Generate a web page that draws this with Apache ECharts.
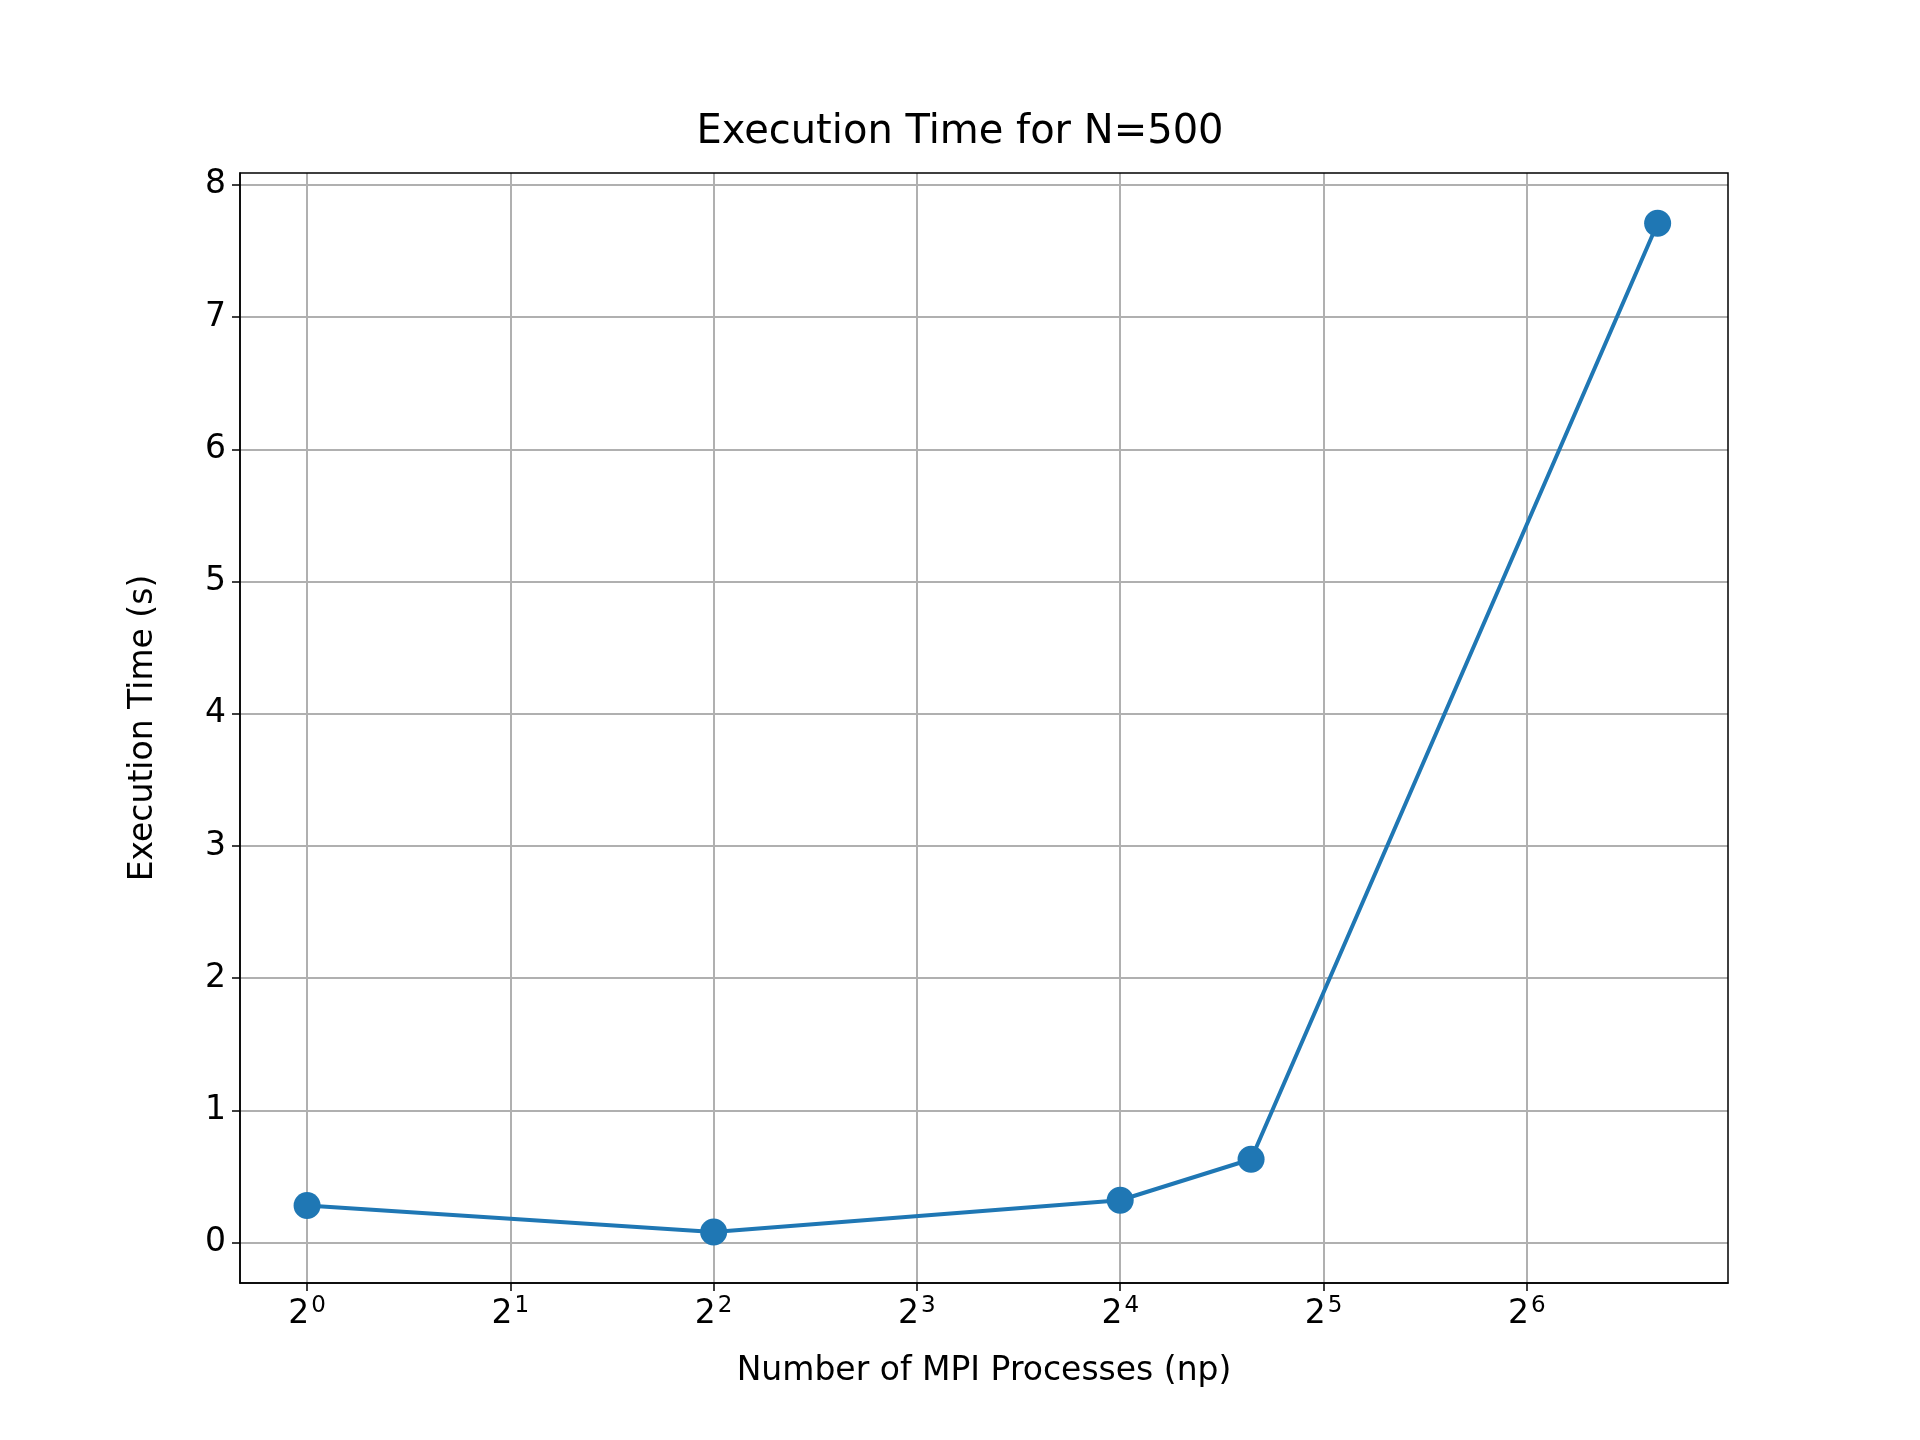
<!DOCTYPE html>
<html>
<head>
<meta charset="utf-8">
<script src="https://cdn.jsdelivr.net/npm/echarts@6/dist/echarts.min.js"></script>
<style>html,body{margin:0;padding:0;background:#fff}#chart{width:1920px;height:1440px}</style>
</head>
<body>
<div id="chart"></div>
<script>
const processes = [1, 4, 16, 25, 100];
const times = [0.28, 0.08, 0.32, 0.63, 7.71];
const xTickExps = [0, 1, 2, 3, 4, 5, 6];
const yTicks = [0, 1, 2, 3, 4, 5, 6, 7, 8];

const chart = echarts.init(document.getElementById('chart'));
const font = 'DejaVu Sans';

chart.setOption({
  animation: false,
  title: {
    text: 'Execution Time for N=500',
    left: 'center', top: 108,
    textStyle: { fontFamily: font, fontSize: 40, fontWeight: 'normal', color: '#000' }
  },
  grid: { left: 240, right: 192, top: 173, bottom: 157 },
  xAxis: {
    type: 'value',
    min: -0.33, max: 6.99,
    name: 'Number of MPI Processes (np)',
    nameLocation: 'middle', nameGap: 72,
    nameTextStyle: { fontFamily: font, fontSize: 33, color: '#000' },
    axisLine: { onZero: false, lineStyle: { color: '#000', width: 1.5 } },
    axisTick: { customValues: xTickExps, length: 8, lineStyle: { color: '#000', width: 1.5 } },
    axisLabel: {
      customValues: xTickExps, margin: 12,
      fontFamily: font, fontSize: 33, color: '#000',
      formatter: v => '2{sup|' + Math.round(v) + '}',
      rich: { sup: { fontFamily: font, fontSize: 23, color: '#000', verticalAlign: 'top', padding: [0, 0, 16, 2] } }
    },
    splitLine: { show: true, lineStyle: { color: '#b0b0b0', width: 2 } }
  },
  yAxis: {
    type: 'value',
    min: -0.306, max: 8.09,
    name: 'Execution Time (s)',
    nameLocation: 'middle', nameGap: 80,
    nameTextStyle: { fontFamily: font, fontSize: 33, color: '#000' },
    axisLine: { show: true, onZero: false, lineStyle: { color: '#000', width: 1.5 } },
    axisTick: { show: true, customValues: yTicks, length: 8, lineStyle: { color: '#000', width: 1.5 } },
    axisLabel: { customValues: yTicks, margin: 14, fontFamily: font, fontSize: 33, color: '#000' },
    splitLine: { show: true, lineStyle: { color: '#b0b0b0', width: 2 } }
  },
  series: [{
    type: 'line',
    data: processes.map((p, i) => [Math.log2(p), times[i]]),
    symbol: 'circle', symbolSize: 27,
    lineStyle: { color: '#1f77b4', width: 4 },
    itemStyle: { color: '#1f77b4' }
  }],
  graphic: [{
    type: 'rect', shape: { x: 240, y: 173, width: 1488, height: 1110 },
    style: { fill: 'none', stroke: '#000', lineWidth: 1.5 }, z: 10
  }]
});
</script>
</body>
</html>
